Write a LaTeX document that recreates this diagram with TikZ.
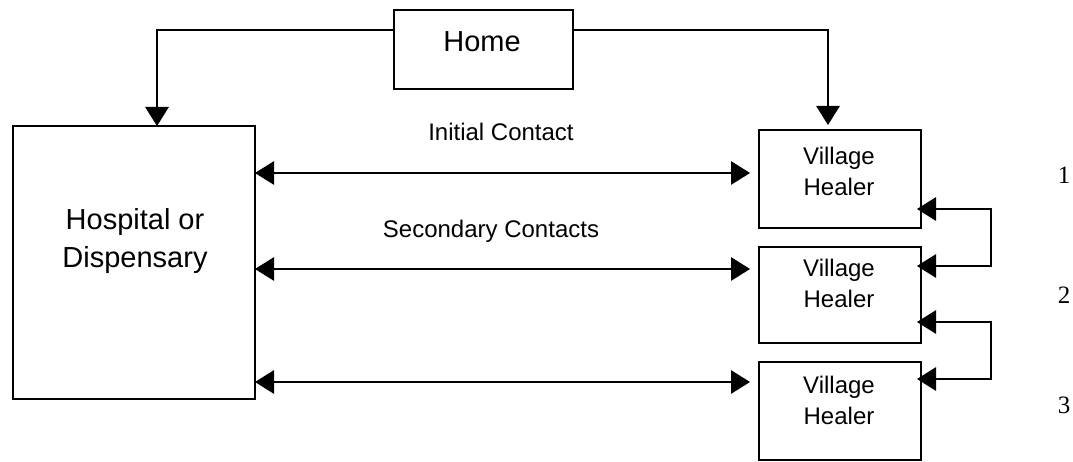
\documentclass[tikz,border=0pt]{standalone}
\usepackage{fontspec}
\setmainfont{Liberation Sans}
\newfontfamily\numfont{Liberation Serif}
\usetikzlibrary{arrows.meta,calc}
\tikzset{
  box/.style={draw, line width=1.3pt, rectangle, inner sep=0pt, outer sep=0pt},
  txt/.style={inner sep=0pt, align=center},
  bigtxt/.style={txt, font=\fontsize{29}{38}\selectfont},
  smalltxt/.style={txt, font=\fontsize{24}{31}\selectfont},
  numtxt/.style={inner sep=0pt, font=\numfont\fontsize{25}{29}\selectfont},
  conn/.style={line width=1.3pt, -{Triangle[length=19pt,width=23.5pt]}},
  dconn/.style={line width=1.3pt, {Triangle[length=19pt,width=23.5pt]}-{Triangle[length=19pt,width=23.5pt]}},
}
\begin{document}
\begin{tikzpicture}[x=1pt,y=-1pt]
\useasboundingbox (0,0) rectangle (1073,462);
% boxes
\node[box, minimum width=179pt, minimum height=79pt] (home) at (483.5,49.5) {};
\node[box, minimum width=242pt, minimum height=273pt] (hosp) at (134,262.5) {};
\node[box, minimum width=162pt, minimum height=98pt] (vh1) at (840,179) {};
\node[box, minimum width=162pt, minimum height=96pt] (vh2) at (840,295) {};
\node[box, minimum width=162pt, minimum height=98pt] (vh3) at (840,411) {};
% box texts
\node[bigtxt] (homet) at (482,42) {Home};
\node[bigtxt] (hospt) at (135,241.5) {Hospital or\\Dispensary};
\node[smalltxt] (vh1t) at (839,171) {Village\\Healer};
\node[smalltxt] (vh2t) at (839,283.5) {Village\\Healer};
\node[smalltxt] (vh3t) at (839,400) {Village\\Healer};
% labels
\node[smalltxt] (lab1) at (501,132) {Initial Contact};
\node[smalltxt] (lab2) at (491,231) {Secondary Contacts};
\node[numtxt] (n1) at (1064,175) {1};
\node[numtxt] (n2) at (1064,295) {2};
\node[numtxt] (n3) at (1064,405) {3};
% home connectors
\draw[conn] ($(home.north west)+(0,20)$) -| ($(hosp.north west)+(144,0)$);
\draw[conn] ($(home.north east)+(0,20)$) -| ($(vh1.north west)+(69,-5)$);
% contact arrows
\coordinate (a1) at ($(hosp.north east)+(0,47)$);
\coordinate (b1) at ($(vh1.north west)+(-9,43)$);
\coordinate (a2) at ($(hosp.north east)+(0,143)$);
\coordinate (b2) at ($(vh2.north west)+(-9,22)$);
\coordinate (a3) at ($(hosp.north east)+(0,256)$);
\coordinate (b3) at ($(vh3.north west)+(-9,20)$);
\draw[dconn] (a1) -- (a1 -| b1);
\draw[dconn] (a2) -- (a2 -| b2);
\draw[dconn] (a3) -- (a3 -| b3);
% healer loops
\coordinate (p1) at ($(vh1.north east)+(-4,79)$);
\coordinate (q1) at ($(vh2.north east)+(-4,19)$);
\coordinate (p2) at ($(vh2.north east)+(-4,75)$);
\coordinate (q2) at ($(vh3.north east)+(-4,17)$);
\draw[dconn] (p1) -- ++(74,0) |- (q1);
\draw[dconn] (p2) -- ++(74,0) |- (q2);
\end{tikzpicture}
\end{document}
